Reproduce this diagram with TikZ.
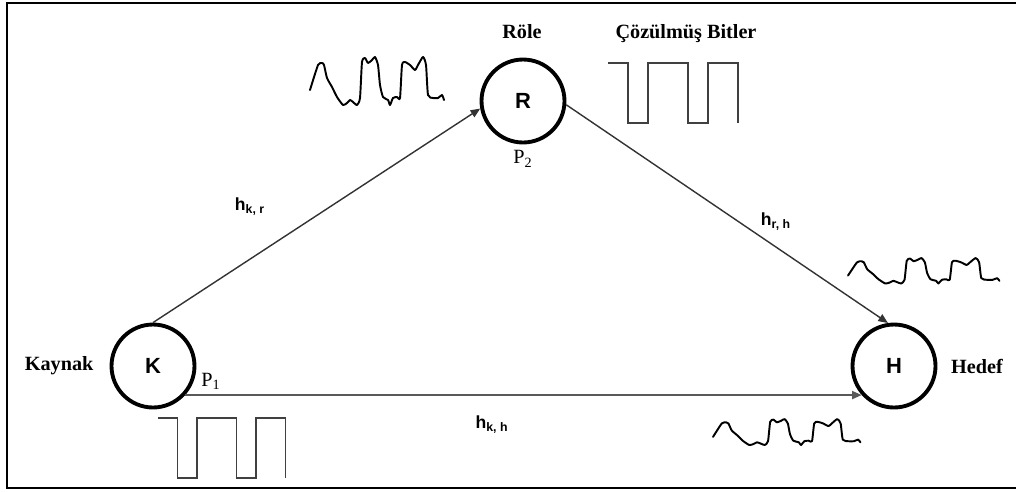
\documentclass[tikz,border=0pt]{standalone}
\usepackage{fontspec}
\setmainfont{Liberation Serif}
\setsansfont{Liberation Sans}
\usetikzlibrary{arrows.meta, positioning}

\begin{document}
\begin{tikzpicture}[
  x=0.02cm, y=-0.02cm,
  station/.style={draw, circle, line width=2.2pt, minimum size=1.66cm, inner sep=0pt, font=\sffamily\bfseries\fontsize{12.5}{14}\selectfont},
  tag/.style={font=\bfseries\fontsize{11.5}{14}\selectfont},
  pow/.style={font=\fontsize{11.5}{14}\selectfont},
  gain/.style={font=\sffamily\bfseries\fontsize{10}{12}\selectfont},
  arr/.style={-{Triangle[length=5.5pt, width=4.5pt]}, line width=0.8pt, draw=black!80},
  wave/.style={line width=1.1pt, line join=round, line cap=round},
  bits/.pic={\draw[line width=1pt, draw=black!75] (0,0) -| (20,60) -| (40,0) -| (80,60) -| (100,0) -| (130,60);},
  rxsignal/.pic={\draw[wave] plot[smooth, tension=0.35] coordinates {(0,35) (8,10) (12,8) (14,10) (17,23) (22,32) (27,42) (33,50) (37,48) (40,45) (43,47) (47,50) (50,43) (52,7) (55,3) (58,8) (62,5) (65,2) (68,10) (70,30) (73,42) (78,45) (80,50) (83,43) (87,42) (90,43) (92,10) (95,7) (100,10) (105,15) (108,10) (113,2) (116,10) (118,40) (123,43) (128,43) (132,40) (134,45)};}
]
\useasboundingbox (0,0) rectangle (1016,491);
\draw[line width=1.4pt] (1016,3) -| (7,488) -- (1016,488);

% source, relay, destination
\node[station] (K) at (153,366) {K};
\node[station] (R) at (523,101) {R};
\node[station] (H) at (894,366) {H};

\node[tag, left=2mm of K] (source name) {Kaynak};
\node[tag, right=1.5mm of H] (dest name) {Hedef};
\node[tag, anchor=base] (relay name) at (522,38) {Röle};
\node[tag, anchor=base] (bits name) at (686,38) {Çözülmüş Bitler};
\node[pow, below=0pt of R] (p2) {P\textsubscript{2}};
\node[pow] (p1) at (211,381) {P\textsubscript{1}};

% channels
\draw[arr] (K.north) -- (R.190);
\draw[arr] (R.-5) -- (H.98);
\draw[arr, line width=1.2pt, draw=black!65] (K.-42) -- (H.-138);

\node[gain] (hkr) at (250,207) {h\textsubscript{k, r}};
\node[gain] (hrh) at (776,222) {h\textsubscript{r, h}};
\node[gain] (hkh) at (492,425) {h\textsubscript{k, h}};

% signals
\pic at (608,63) {bits};
\pic[xscale=0.98] at (158,418) {bits};
\pic at (310,55) {rxsignal};
\pic[xscale=1.13, yscale=0.53] at (848,257) {rxsignal};
\pic[xscale=1.10, yscale=0.54] at (713,418) {rxsignal};
\end{tikzpicture}
\end{document}
